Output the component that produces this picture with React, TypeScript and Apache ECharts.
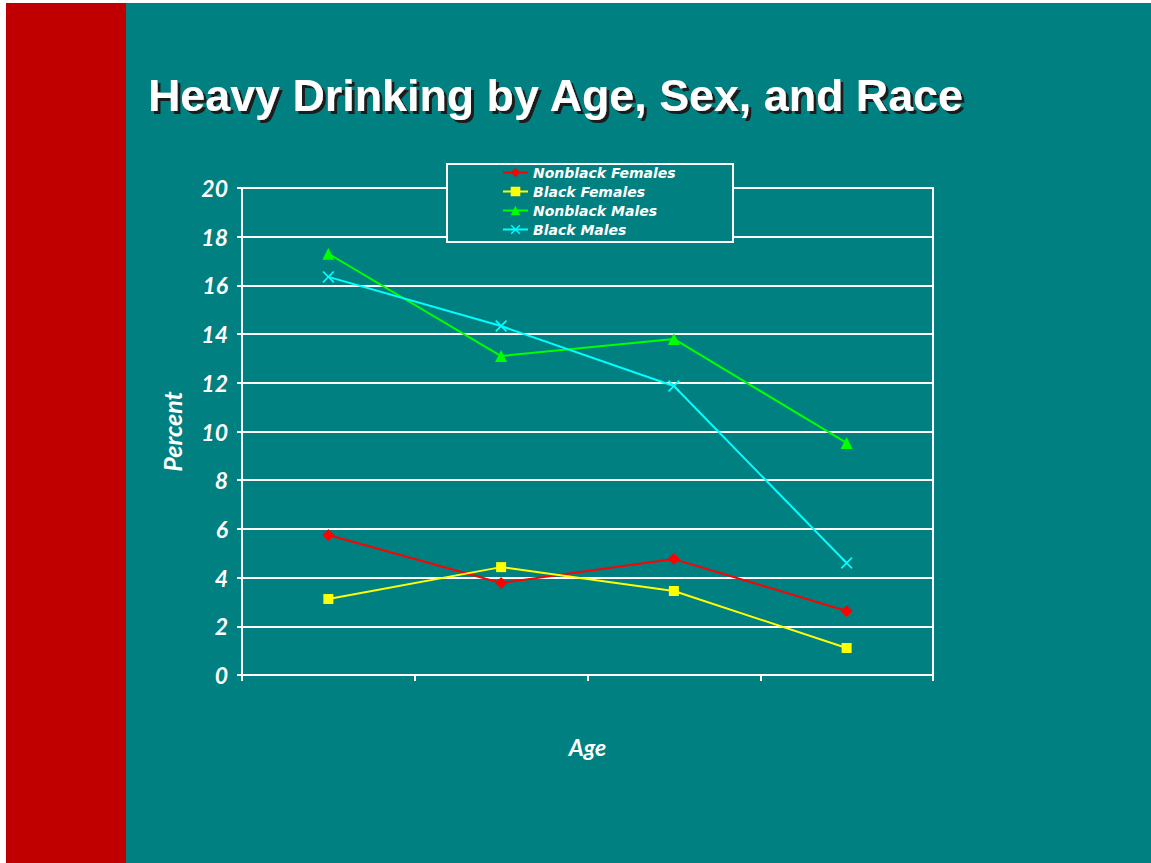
import React, { useEffect, useRef } from "react";
import * as echarts from "echarts";

const ageGroups = ["Group 1", "Group 2", "Group 3", "Group 4"];
const nonblackFemales = [5.75, 3.78, 4.76, 2.63];
const blackFemales = [3.12, 4.43, 3.45, 1.11];
const nonblackMales = [17.3, 13.1, 13.8, 9.53];
const blackMales = [16.35, 14.33, 11.87, 4.6];
const yTicks = [0, 2, 4, 6, 8, 10, 12, 14, 16, 18, 20];

const TEAL = "#008080";
const FONT = "Lato, 'Open Sans', sans-serif";
const X_SYMBOL =
  "path://M1,0 L5,4 L9,0 L10,1 L6,5 L10,9 L9,10 L5,6 L1,10 L0,9 L4,5 L0,1 Z";

export default function App() {
  const ref = useRef<HTMLDivElement>(null);
  useEffect(() => {
    if (!ref.current) return;
    const chart = echarts.init(ref.current, undefined, { renderer: "svg" });
    const lineSeries = (
      name: string,
      data: number[],
      color: string,
      symbol: string,
      size: number
    ) => ({
      name,
      type: "line",
      data,
      symbol,
      symbolSize: size,
      showSymbol: true,
      lineStyle: { color, width: 2 },
      itemStyle: { color, borderColor: color, borderWidth: 0 },
      z: 2,
    });
    chart.setOption({
      animation: false,
      backgroundColor: TEAL,
      textStyle: { fontFamily: FONT },
      graphic: [
        {
          type: "rect",
          left: 0,
          top: 0,
          shape: { width: 120, height: 860 },
          style: { fill: "#C00000" },
          z: 0,
        },
        {
          type: "text",
          x: 142,
          y: 92,
          style: {
            text: "Heavy Drinking by Age, Sex, and Race",
            fill: "#ffffff",
            font: "bold 44.8px 'Liberation Sans', Arial, sans-serif",
            verticalAlign: "middle",
            textShadowColor: "#1a1a1a",
            textShadowBlur: 0.5,
            textShadowOffsetX: 3,
            textShadowOffsetY: 3,
          },
          z: 2,
        },
        {
          type: "rect",
          x: 441,
          y: 161,
          shape: { width: 286, height: 78 },
          style: { fill: TEAL, stroke: "#ffffff", lineWidth: 2 },
          z: 3,
        },
      ],
      legend: {
        orient: "vertical",
        left: 496,
        top: 161,
        itemWidth: 25,
        itemHeight: 12,
        itemGap: 2,
        padding: 0,
        z: 4,
        textStyle: {
          color: "#ffffff",
          fontStyle: "italic",
          fontWeight: "bold",
          fontSize: 14,
          lineHeight: 17,
          fontFamily: "'DejaVu Sans', Verdana, sans-serif",
        },
        data: ["Nonblack Females", "Black Females", "Nonblack Males", "Black Males"],
      },
      grid: {
        left: 236,
        right: 218,
        top: 185,
        bottom: 188,
        show: true,
        borderColor: "#ffffff",
        borderWidth: 2,
        backgroundColor: "transparent",
      },
      xAxis: {
        type: "category",
        data: ageGroups,
        boundaryGap: true,
        name: "Age",
        nameLocation: "middle",
        nameGap: 60,
        nameTextStyle: {
          color: "#ffffff",
          fontStyle: "italic",
          fontWeight: "bold",
          fontSize: 23,
          fontFamily: FONT,
        },
        axisLine: { lineStyle: { color: "#ffffff", width: 2 } },
        axisTick: { show: true, length: 6, alignWithLabel: false, lineStyle: { color: "#ffffff", width: 2 } },
        axisLabel: { show: false },
        splitLine: { show: false },
      },
      yAxis: {
        type: "value",
        min: yTicks[0],
        max: yTicks[yTicks.length - 1],
        interval: 2,
        name: "Percent",
        nameLocation: "middle",
        nameGap: 58,
        nameTextStyle: {
          color: "#ffffff",
          fontStyle: "italic",
          fontWeight: "bold",
          fontSize: 25,
          fontFamily: FONT,
        },
        axisLine: { show: true, lineStyle: { color: "#ffffff", width: 2 } },
        axisTick: { show: true, length: 5, lineStyle: { color: "#ffffff", width: 2 } },
        axisLabel: {
          color: "#ffffff",
          fontStyle: "italic",
          fontWeight: "bold",
          fontSize: 23,
          fontFamily: FONT,
          margin: 14,
        },
        splitLine: { show: true, lineStyle: { color: "#ffffff", width: 2 } },
      },
      series: [
        lineSeries("Nonblack Females", nonblackFemales, "#FF0000", "diamond", 12),
        lineSeries("Black Females", blackFemales, "#FFFF00", "rect", 10),
        lineSeries("Nonblack Males", nonblackMales, "#00FF00", "triangle", 12),
        lineSeries("Black Males", blackMales, "#00FFFF", X_SYMBOL, 12),
      ],
    });
    return () => chart.dispose();
  }, []);
  return (
    <div
      ref={ref}
      style={{ position: "absolute", left: 6, top: 3, width: 1145, height: 860 }}
    />
  );
}
